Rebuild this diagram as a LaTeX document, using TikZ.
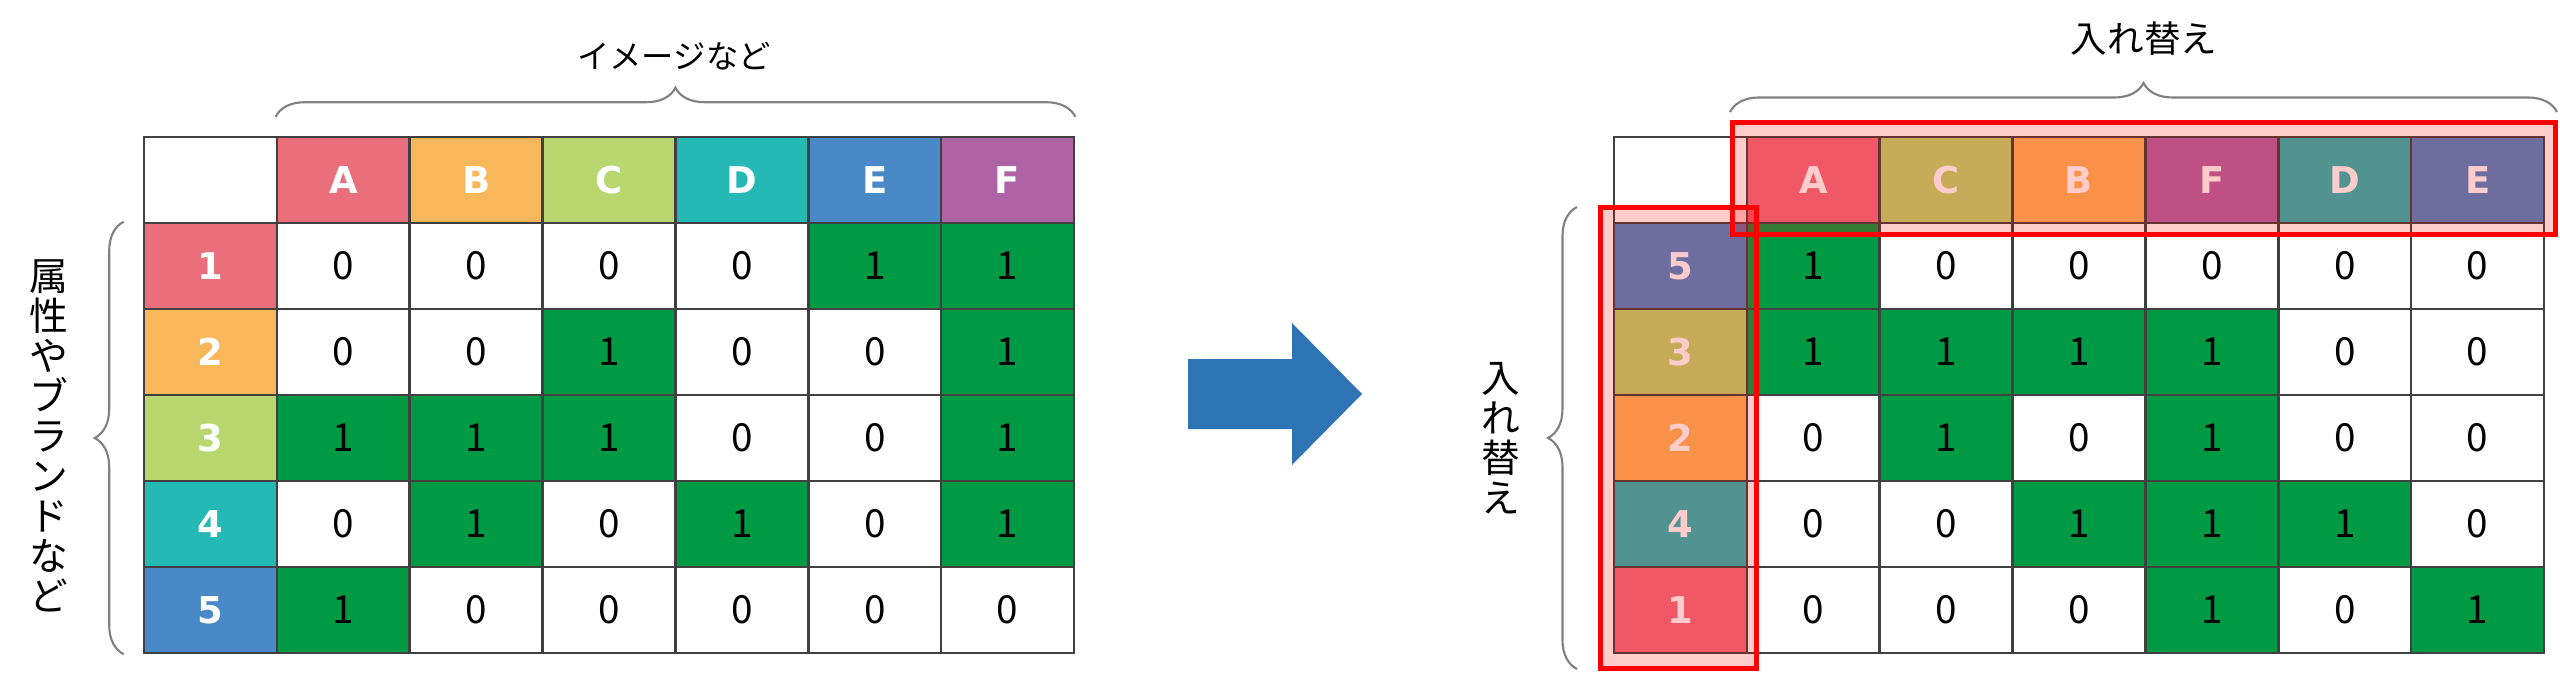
\documentclass[tikz,border=0pt]{standalone}
\usepackage{fontspec}
\newfontfamily\cjk{Noto Sans CJK JP}
\newfontfamily\headfont{DejaVu Sans}
\usetikzlibrary{decorations.pathreplacing}

\definecolor{colA}{HTML}{EB6E7D}
\definecolor{colB}{HTML}{F8B75A}
\definecolor{colC}{HTML}{B8D76E}
\definecolor{colD}{HTML}{26B8B5}
\definecolor{colE}{HTML}{4A89C8}
\definecolor{colF}{HTML}{AE64A4}
\colorlet{row1}{colA}
\colorlet{row2}{colB}
\colorlet{row3}{colC}
\colorlet{row4}{colD}
\colorlet{row5}{colE}
\definecolor{onegreen}{HTML}{009A44}
\definecolor{gridgray}{HTML}{404040}
\definecolor{bracegray}{HTML}{808080}
\definecolor{arrowblue}{HTML}{2E74B5}

\tikzset{
	cell/.style={draw=gridgray, line width=0.7pt, minimum width=1.3286cm, minimum height=0.86cm, inner sep=0pt, font=\cjk\fontsize{11pt}{13pt}\selectfont},
	head/.style={cell, text=white, font=\headfont\bfseries\fontsize{10.5pt}{12pt}\selectfont},
	v0/.style={fill=white},
	v1/.style={fill=onegreen},
	curly/.style={decorate, decoration={brace, amplitude=0.29cm}, draw=bracegray, line width=0.6pt},
	swapbox/.style={draw=red, line width=0.05cm, fill=red, fill opacity=0.2},
	jtext/.style={font=\cjk\fontsize{11pt}{11.4pt}\selectfont, inner sep=0pt, align=center}
}

\begin{document}
\begin{tikzpicture}[x=0.01cm, y=-0.01cm]
		\useasboundingbox (0,0) rectangle (2560,673);

		% before
		\node (L-0-0) [cell] at (210.43,180) {};
		\foreach \h [count=\c] in {A,B,C,D,E,F}
			\node (L-0-\c) [head, fill=col\h] at ({210.43+132.86*\c},180) {\h};
		\foreach \vals [count=\r] in {{0,0,0,0,1,1},{0,0,1,0,0,1},{1,1,1,0,0,1},{0,1,0,1,0,1},{1,0,0,0,0,0}} {
			\node (L-\r-0) [head, fill=row\r] at (210.43,{180+86*\r}) {\r};
			\foreach \v [count=\c] in \vals
				\node (L-\r-\c) [cell, v\v] at ({210.43+132.86*\c},{180+86*\r}) {\v};
		}
		\draw [curly] ([xshift=-0.19cm]L-5-0.south west) -- ([xshift=-0.19cm]L-1-0.north west);
		\draw [curly] ([yshift=0.19cm]L-0-1.north west) -- ([yshift=0.19cm]L-0-6.north east);
		\node (images) [jtext, font=\cjk\fontsize{9.2pt}{11pt}\selectfont] at (674,56) {イメージなど};
		\node (brands) [jtext] at (49,436) {属\\性\\や\\ブ\\ラ\\ン\\ド\\な\\ど};

		\fill [arrowblue] (1188,359) -- (1292,359) -- (1292,323) -- (1362,394) -- (1292,465) -- (1292,429) -- (1188,429) -- cycle;

		% after
		\node (R-0-0) [cell] at (1680.43,180) {};
		\foreach \h [count=\c] in {A,C,B,F,D,E}
			\node (R-0-\c) [head, fill=col\h] at ({1680.43+132.86*\c},180) {\h};
		\foreach \lab/\vals [count=\r] in {5/{1,0,0,0,0,0},3/{1,1,1,1,0,0},2/{0,1,0,1,0,0},4/{0,0,1,1,1,0},1/{0,0,0,1,0,1}} {
			\node (R-\r-0) [head, fill=row\lab] at (1680.43,{180+86*\r}) {\lab};
			\foreach \v [count=\c] in \vals
				\node (R-\r-\c) [cell, v\v] at ({1680.43+132.86*\c},{180+86*\r}) {\v};
		}
		\draw [swapbox] (1732.5,122.5) rectangle (2555.5,234.5);
		\draw [swapbox] (1600.5,207.5) rectangle (1756.5,668.5);
		\draw [curly] (1577,669) -- (1577,207);
		\draw [curly] (1730,112) -- (2557,112);
		\node (swaptop) [jtext, font=\cjk\fontsize{10.4pt}{12pt}\selectfont] at (2144,39) {入れ替え};
		\node (swapside) [jtext] at (1501,438) {入\\れ\\替\\え};
	\end{tikzpicture}
\end{document}
